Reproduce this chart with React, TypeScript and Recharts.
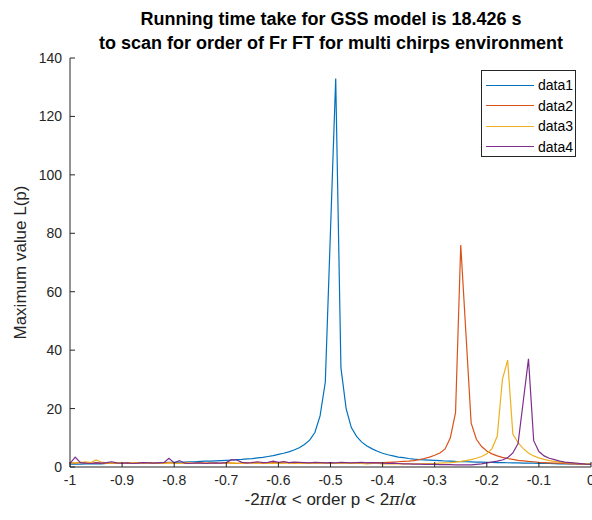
import React from 'react'
import { LineChart, Line, XAxis, YAxis, Legend } from 'recharts'

// order p, scanned from -1 to 0
const orders = [
  -1, -0.99, -0.98, -0.97, -0.96, -0.95, -0.94, -0.93, -0.92, -0.91,
  -0.9, -0.89, -0.88, -0.87, -0.86, -0.85, -0.84, -0.83, -0.82, -0.81,
  -0.8, -0.79, -0.78, -0.77, -0.76, -0.75, -0.74, -0.73, -0.72, -0.71,
  -0.7, -0.69, -0.68, -0.67, -0.66, -0.65, -0.64, -0.63, -0.62, -0.61,
  -0.6, -0.59, -0.58, -0.57, -0.56, -0.55, -0.54, -0.53, -0.52, -0.51,
  -0.5, -0.49, -0.48, -0.47, -0.46, -0.45, -0.44, -0.43, -0.42, -0.41,
  -0.4, -0.39, -0.38, -0.37, -0.36, -0.35, -0.34, -0.33, -0.32, -0.31,
  -0.3, -0.29, -0.28, -0.27, -0.26, -0.25, -0.24, -0.23, -0.22, -0.21,
  -0.2, -0.19, -0.18, -0.17, -0.16, -0.15, -0.14, -0.13, -0.12, -0.11,
  -0.1, -0.09, -0.08, -0.07, -0.06, -0.05, -0.04, -0.03, -0.02, -0.01,
  0,
]

const data1 = [
  1.0, 1.0, 1.0, 1.1, 1.1, 1.1, 1.1, 1.2, 1.2, 1.2,
  1.2, 1.3, 1.3, 1.3, 1.4, 1.4, 1.4, 1.5, 1.5, 1.6,
  1.6, 1.7, 1.7, 1.8, 1.8, 1.9, 2.0, 2.0, 2.1, 2.2,
  2.3, 2.4, 2.5, 2.6, 2.8, 2.9, 3.1, 3.3, 3.6, 3.9,
  4.3, 4.7, 5.2, 5.8, 6.6, 7.7, 9.2, 11.8, 17.5, 29,
  81, 133, 34, 20, 13.5, 10.5, 8.5, 7.2, 6.2, 5.4,
  4.7, 4.2, 3.8, 3.4, 3.2, 2.9, 2.7, 2.55, 2.45, 2.35,
  2.25, 2.15, 2.05, 2.0, 1.9, 1.85, 1.8, 1.75, 1.7, 1.65,
  1.6, 1.55, 1.5, 1.5, 1.45, 1.4, 1.4, 1.35, 1.3, 1.3,
  1.25, 1.2, 1.2, 1.15, 1.1, 1.1, 1.05, 1.05, 1.0, 1.0,
  1.0,
]

const data2 = [
  1.5, 1.3, 1.6, 1.4, 1.2, 1.5, 1.3, 1.2, 1.4, 1.3,
  1.2, 1.4, 1.3, 1.5, 1.2, 1.3, 1.4, 1.2, 1.3, 1.5,
  1.3, 1.2, 1.4, 1.3, 1.2, 1.5, 1.3, 1.4, 1.2, 1.3,
  1.5, 1.3, 1.2, 1.4, 1.3, 1.6, 1.4, 1.2, 1.3, 1.5,
  1.3, 1.8, 1.4, 1.2, 1.3, 1.4, 1.3, 1.2, 1.4, 1.3,
  1.3, 1.2, 1.4, 1.3, 1.3, 1.4, 1.3, 1.4, 1.4, 1.5,
  1.5, 1.6, 1.7, 1.8, 1.9, 2.0, 2.2, 2.5, 2.9, 3.4,
  4.0, 4.8, 6.2, 10.0, 18.6, 76, 45.5, 15, 9.5, 7.0,
  5.5, 4.5, 3.8, 3.3, 2.9, 2.6, 2.3, 2.1, 1.9, 1.8,
  1.6, 1.5, 1.4, 1.3, 1.3, 1.2, 1.1, 1.1, 1.0, 1.0,
  0.9,
]

const data3 = [
  1.6, 1.4, 1.5, 1.8, 1.5, 2.4, 1.7, 1.4, 1.3, 1.5,
  1.4, 1.3, 1.5, 1.4, 1.3, 1.2, 1.4, 1.3, 1.2, 1.4,
  1.3, 1.2, 1.3, 1.4, 1.2, 1.3, 1.2, 1.4, 1.3, 1.2,
  1.3, 1.4, 1.3, 1.2, 1.5, 1.3, 1.2, 1.4, 1.3, 1.2,
  1.3, 1.2, 1.4, 1.3, 1.2, 1.3, 1.2, 1.3, 1.2, 1.3,
  1.2, 1.3, 1.2, 1.2, 1.3, 1.2, 1.2, 1.1, 1.2, 1.2,
  1.1, 1.1, 1.1, 1.1, 1.1, 1.1, 1.1, 1.1, 1.2, 1.2,
  1.2, 1.3, 1.4, 1.5, 1.7, 1.9, 2.2, 2.5, 3.0, 3.6,
  4.5, 6.3, 10.5, 30, 36.6, 11.3, 8.3, 6.3, 4.8, 3.8,
  3.1, 2.6, 2.2, 1.9, 1.7, 1.5, 1.4, 1.3, 1.2, 1.1,
  1.0,
]

const data4 = [
  1.2, 3.4, 1.5, 1.3, 1.2, 1.4, 1.3, 1.5, 1.8, 1.4,
  1.3, 1.4, 1.2, 1.3, 1.5, 1.4, 1.3, 1.4, 1.5, 3.0,
  1.4, 2.2, 1.3, 1.2, 1.4, 1.3, 1.2, 1.3, 1.4, 1.3,
  1.5, 2.5, 2.4, 1.6, 1.4, 1.5, 1.8, 1.5, 1.6, 2.0,
  1.6, 1.8, 1.5, 1.7, 1.6, 1.5, 1.4, 1.6, 1.5, 1.4,
  1.5, 1.4, 1.6, 1.5, 1.4, 1.5, 1.6, 1.4, 1.5, 1.4,
  1.3, 1.2, 1.3, 1.2, 1.1, 1.1, 1.0, 1.0, 0.9, 0.9,
  0.9, 0.8, 0.8, 0.8, 0.7, 0.7, 0.7, 0.7, 0.9, 1.1,
  1.4, 1.7, 2.0, 2.4, 3.2, 4.8, 8, 22.5, 37, 9,
  5.3, 3.8, 3.0, 2.5, 2.0, 1.7, 1.5, 1.3, 1.2, 1.0,
  0.9,
]

const xTicks = [-1, -0.9, -0.8, -0.7, -0.6, -0.5, -0.4, -0.3, -0.2, -0.1, 0]
const yTicks = [0, 20, 40, 60, 80, 100, 120, 140]

const seriesNames = ['data1', 'data2', 'data3', 'data4']
const colors = ['#0072BD', '#D95319', '#EDB120', '#7E2F8E']

const chartData = orders.map((p, i) => ({
  p,
  data1: data1[i],
  data2: data2[i],
  data3: data3[i],
  data4: data4[i],
}))

const FONT = '"Liberation Sans", Arial, sans-serif'
const INK = '#262626'

// MATLAB style: ticks point into the box
const BottomTick = (props: any) => {
  const { x, y, payload } = props
  return (
    <g>
      <line x1={x} y1={y} x2={x} y2={y - 5} stroke={INK} />
      <text x={x} y={y + 18} textAnchor="middle" fill={INK} fontSize={14} fontFamily={FONT}>
        {payload.value}
      </text>
    </g>
  )
}

const TopTick = (props: any) => {
  const { x, y } = props
  return <line x1={x} y1={y} x2={x} y2={y + 5} stroke={INK} />
}

const LeftTick = (props: any) => {
  const { x, y, payload } = props
  return (
    <g>
      <line x1={x} y1={y} x2={x + 5} y2={y} stroke={INK} />
      <text x={x - 8} y={y + 5} textAnchor="end" fill={INK} fontSize={14} fontFamily={FONT}>
        {payload.value}
      </text>
    </g>
  )
}

const RightTick = (props: any) => {
  const { x, y } = props
  return <line x1={x} y1={y} x2={x - 5} y2={y} stroke={INK} />
}

const XLabel = (props: any) => {
  const { viewBox } = props
  const cx = viewBox.x + viewBox.width / 2
  const sym = { fontFamily: '"DejaVu Serif", serif', fontStyle: 'italic' }
  return (
    <text x={cx} y={viewBox.y + 38} textAnchor="middle" fill={INK} fontSize={17} fontFamily={FONT}>
      -2<tspan {...sym}>π</tspan>/<tspan {...sym}>α</tspan> &lt; order p &lt; 2<tspan {...sym}>π</tspan>/
      <tspan {...sym}>α</tspan>
    </text>
  )
}

const YLabel = (props: any) => {
  const { viewBox } = props
  const cx = viewBox.x + 20
  const cy = viewBox.y + viewBox.height / 2
  return (
    <text
      x={cx}
      y={cy}
      transform={`rotate(-90 ${cx} ${cy})`}
      textAnchor="middle"
      dominantBaseline="central"
      fill={INK}
      fontSize={17}
      fontFamily={FONT}
    >
      Maximum value L(p)
    </text>
  )
}

const LegendBox = () => (
  <div
    style={{
      border: `1px solid ${INK}`,
      background: '#fff',
      width: 95,
      height: 87,
      boxSizing: 'border-box',
      padding: '4px 0 0 4px',
      fontFamily: FONT,
      fontSize: 14,
      color: '#000',
    }}
  >
    {seriesNames.map((name, i) => (
      <div key={name} style={{ display: 'flex', alignItems: 'center', height: 20.5 }}>
        <div style={{ width: 48, borderTop: `1px solid ${colors[i]}`, marginRight: 4 }} />
        <span>{name}</span>
      </div>
    ))}
  </div>
)

export default function App() {
  return (
    <div style={{ position: 'absolute', left: 0, top: 0, width: 592, height: 520, background: '#fff' }}>
      <div
        style={{
          position: 'absolute',
          left: 70,
          top: 7,
          width: 522,
          textAlign: 'center',
          fontFamily: FONT,
          fontWeight: 'bold',
          fontSize: 18,
          lineHeight: '24px',
          color: '#000',
        }}
      >
        Running time take for GSS model is 18.426 s
        <br />
        to scan for order of Fr FT for multi chirps environment
      </div>
      <LineChart width={592} height={520} data={chartData} margin={{ top: 58, right: 1, bottom: 0, left: 0 }}>
        <XAxis
          dataKey="p"
          type="number"
          domain={[-1, 0]}
          ticks={xTicks}
          allowDataOverflow
          height={53}
          tickSize={0}
          tickMargin={0}
          tickLine={false}
          axisLine={{ stroke: INK }}
          tick={<BottomTick />}
          interval={0}
          label={{ content: <XLabel /> }}
        />
        <XAxis
          xAxisId="top"
          orientation="top"
          type="number"
          domain={[-1, 0]}
          ticks={xTicks}
          height={0}
          tickSize={0}
          tickMargin={0}
          tickLine={false}
          axisLine={{ stroke: INK }}
          tick={<TopTick />}
          interval={0}
        />
        <YAxis
          type="number"
          domain={[0, 140]}
          ticks={yTicks}
          width={70}
          tickSize={0}
          tickMargin={0}
          tickLine={false}
          axisLine={{ stroke: INK }}
          tick={<LeftTick />}
          interval={0}
          label={{ content: <YLabel /> }}
        />
        <YAxis
          yAxisId="right"
          orientation="right"
          type="number"
          domain={[0, 140]}
          ticks={yTicks}
          width={0}
          tickSize={0}
          tickMargin={0}
          tickLine={false}
          axisLine={{ stroke: INK }}
          tick={<RightTick />}
          interval={0}
        />
        <Legend
          layout="vertical"
          align="center"
          verticalAlign="middle"
          wrapperStyle={{ left: 481, top: 70, width: 'auto', height: 'auto' }}
          content={<LegendBox />}
        />
        {seriesNames.map((name, i) => (
          <Line
            key={name}
            type="linear"
            dataKey={name}
            stroke={colors[i]}
            strokeWidth={1.2}
            dot={false}
            activeDot={false}
            isAnimationActive={false}
          />
        ))}
      </LineChart>
    </div>
  )
}
